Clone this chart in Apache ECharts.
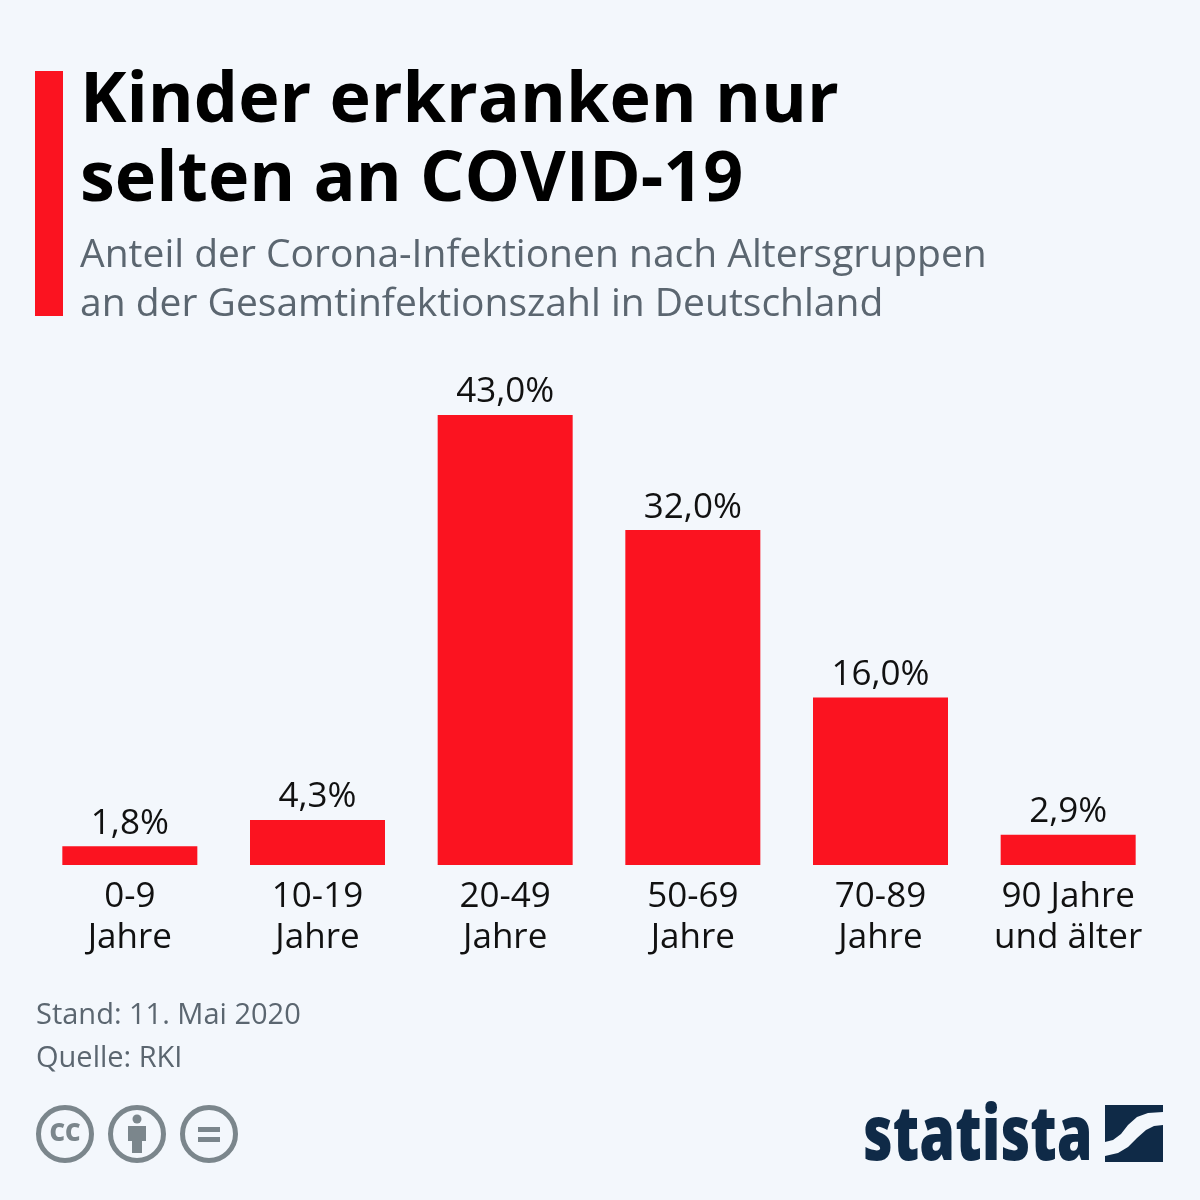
<!DOCTYPE html>
<html>
<head>
<meta charset="utf-8">
<style>
html, body { margin: 0; padding: 0; background: #f3f7fc; }
#main { width: 1200px; height: 1200px; }
</style>
<script src="https://cdn.jsdelivr.net/npm/echarts@6/dist/echarts.min.js"></script>
</head>
<body>
<div id="main"></div>
<script>
var categories = ['0-9\nJahre', '10-19\nJahre', '20-49\nJahre', '50-69\nJahre', '70-89\nJahre', '90 Jahre\nund älter'];
var shares = [1.8, 4.3, 43.0, 32.0, 16.0, 2.9];
var titleText = 'Kinder erkranken nur\nselten an COVID-19';
var subtitleText = 'Anteil der Corona-Infektionen nach Altersgruppen\nan der Gesamtinfektionszahl in Deutschland';
var footerLines = ['Stand: 11. Mai 2020', 'Quelle: RKI'];

var FONT = '"Open Sans", sans-serif';
var RED = '#fb1320';
var GREY = '#5b6670';
var ICON = '#7b868c';
var NAVY = '#0f2a47';

var myChart = echarts.init(document.getElementById('main'), null, { renderer: 'canvas' });

function badge(cx, children) {
    return {
        type: 'group',
        x: cx,
        y: 1134,
        children: [{
            type: 'circle',
            shape: { cx: 0, cy: 0, r: 26.5 },
            style: { fill: 'none', stroke: ICON, lineWidth: 5 }
        }].concat(children)
    };
}

var option = {
    backgroundColor: '#f3f7fc',
    animation: false,
    title: [{
        text: titleText,
        left: 75,
        top: 58,
        textStyle: { fontFamily: FONT, fontSize: 70, fontWeight: 700, color: '#000', lineHeight: 79 }
    }, {
        text: subtitleText,
        left: 75,
        top: 226,
        textStyle: { fontFamily: FONT, fontSize: 39, fontWeight: 400, color: GREY, lineHeight: 49 }
    }],
    grid: { left: 36, right: 38, top: 415, bottom: 335 },
    xAxis: {
        type: 'category',
        data: categories,
        axisLine: { show: false },
        axisTick: { show: false },
        axisLabel: {
            interval: 0,
            margin: 12,
            fontFamily: FONT,
            fontSize: 35,
            lineHeight: 41,
            color: '#111'
        }
    },
    yAxis: { type: 'value', min: 0, max: 43, show: false },
    series: [{
        type: 'bar',
        data: shares,
        barWidth: 135,
        itemStyle: { color: RED },
        label: {
            show: true,
            position: 'top',
            distance: 5,
            fontFamily: FONT,
            fontSize: 35,
            color: '#111',
            formatter: function (p) { return p.value.toFixed(1).replace('.', ',') + '%'; }
        }
    }],
    graphic: [
        { type: 'rect', shape: { x: 35, y: 71, width: 28, height: 245 }, style: { fill: RED } },
        { type: 'text', x: 36, y: 1001, style: { text: footerLines[0], font: '400 29px ' + FONT, fill: GREY } },
        { type: 'text', x: 36, y: 1044, style: { text: footerLines[1], font: '400 29px ' + FONT, fill: GREY } },
        badge(65, [{
            type: 'text', x: 0, y: 0,
            style: { text: 'CC', font: '800 24px ' + FONT, fill: ICON, align: 'center', verticalAlign: 'middle' }
        }]),
        badge(137, [
            { type: 'circle', shape: { cx: 0, cy: -15, r: 4.5 }, style: { fill: ICON } },
            { type: 'polygon', shape: { points: [[-9, -8], [9, -8], [9, 7], [5, 7], [5, 19], [-5, 19], [-5, 7], [-9, 7]] }, style: { fill: ICON } }
        ]),
        badge(209, [
            { type: 'rect', shape: { x: -11, y: -7, width: 22, height: 5 }, style: { fill: ICON } },
            { type: 'rect', shape: { x: -11, y: 3, width: 22, height: 5 }, style: { fill: ICON } }
        ]),
        {
            type: 'text', x: 863, y: 1101, scaleX: 0.93, scaleY: 1.22,
            style: { text: 'statista', font: '800 62px "Open Sans", sans-serif', fill: NAVY }
        },
        {
            type: 'polygon',
            shape: { points: [[1105, 1105], [1163, 1105], [1163, 1112], [1148, 1113], [1137, 1117], [1128, 1125], [1121, 1134], [1113, 1140], [1105, 1142]] },
            style: { fill: NAVY }
        },
        {
            type: 'polygon',
            shape: { points: [[1163, 1125], [1163, 1162], [1105, 1162], [1105, 1156], [1118, 1153], [1128, 1147], [1137, 1138], [1146, 1130], [1154, 1126]] },
            style: { fill: NAVY }
        }
    ]
};

myChart.setOption(option);
</script>
</body>
</html>
